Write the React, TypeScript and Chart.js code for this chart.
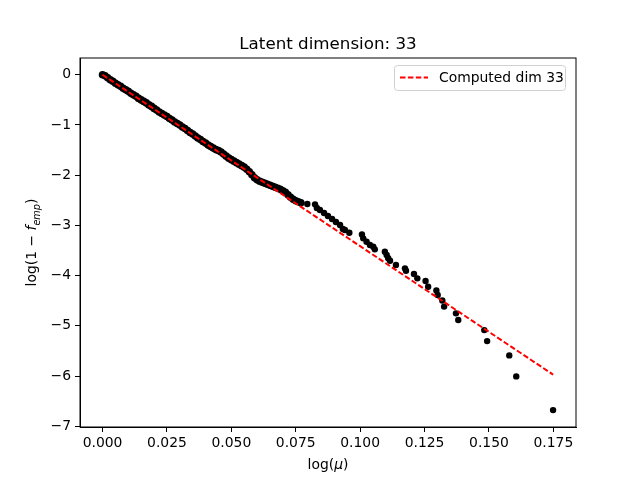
import React, { useEffect, useRef } from "react";
import { Chart, registerables } from "chart.js";

Chart.register(...registerables);

const chartTitle = "Latent dimension: 33";
const legendLabel = "Computed dim 33";

// dense empirical points (log mu, log(1 - f_emp))
const denseX = [
  0.000, 0.001, 0.002, 0.003, 0.004, 0.005, 0.006, 0.007, 0.008, 0.009,
  0.010, 0.011, 0.012, 0.013, 0.014, 0.015, 0.016, 0.017, 0.018, 0.019,
  0.020, 0.021, 0.022, 0.023, 0.024, 0.025, 0.026, 0.027, 0.028, 0.029,
  0.030, 0.031, 0.032, 0.033, 0.034, 0.035, 0.036, 0.037, 0.038, 0.039,
  0.040, 0.041, 0.042, 0.043, 0.044, 0.045, 0.046, 0.047, 0.048, 0.049,
  0.050, 0.051, 0.052, 0.053, 0.054, 0.055, 0.056, 0.057, 0.058, 0.059,
  0.060, 0.061, 0.062, 0.063, 0.064, 0.065, 0.066, 0.067, 0.068, 0.069,
  0.070, 0.071, 0.072, 0.073, 0.074, 0.075, 0.076, 0.077,
];
const denseY = [
  0.00, -0.02, -0.06, -0.10, -0.13, -0.17, -0.20, -0.23, -0.27, -0.30,
  -0.33, -0.37, -0.40, -0.43, -0.47, -0.50, -0.53, -0.56, -0.60, -0.63,
  -0.67, -0.70, -0.74, -0.77, -0.80, -0.83, -0.87, -0.90, -0.94, -0.97,
  -1.00, -1.04, -1.07, -1.11, -1.15, -1.18, -1.22, -1.26, -1.29, -1.33,
  -1.36, -1.40, -1.43, -1.46, -1.49, -1.51, -1.54, -1.58, -1.62, -1.66,
  -1.69, -1.72, -1.75, -1.78, -1.81, -1.84, -1.88, -1.93, -1.99, -2.05,
  -2.09, -2.12, -2.14, -2.16, -2.18, -2.20, -2.22, -2.24, -2.26, -2.28,
  -2.31, -2.34, -2.39, -2.44, -2.48, -2.51, -2.53, -2.55,
];

// sparse tail points
const tailX = [
  0.0795, 0.0825, 0.0832, 0.0844, 0.0860, 0.0875, 0.0891, 0.0906, 0.0922, 0.0933,
  0.0941, 0.0958, 0.1007, 0.1012, 0.1025, 0.1038, 0.1051, 0.1057, 0.1096, 0.1103,
  0.1109, 0.1116, 0.1139, 0.1174, 0.1178, 0.1209, 0.1222, 0.1254, 0.1264, 0.1296,
  0.1301, 0.1319, 0.1326, 0.1372, 0.1381, 0.1482, 0.1493, 0.1579, 0.1606, 0.1749,
];
const tailY = [
  -2.574, -2.580, -2.653, -2.693, -2.753, -2.813, -2.873, -2.932, -2.992, -3.072,
  -3.092, -3.145, -3.181, -3.257, -3.325, -3.390, -3.424, -3.476, -3.524, -3.590,
  -3.655, -3.703, -3.789, -3.855, -3.902, -3.968, -4.054, -4.108, -4.221, -4.297,
  -4.386, -4.496, -4.616, -4.751, -4.884, -5.084, -5.303, -5.588, -6.006, -6.677,
];

// computed fit line
const fitX = [0, 0.1749];
const fitY = [0, -5.97];

const xTicks = [0, 0.025, 0.05, 0.075, 0.1, 0.125, 0.15, 0.175];
const yTicks = [0, -1, -2, -3, -4, -5, -6, -7];

const FONT = "'DejaVu Sans', sans-serif";

const decorPlugin = {
  id: "decor",
  afterDraw(chart: any) {
    const ctx = chart.ctx as CanvasRenderingContext2D;
    const a = chart.chartArea;
    ctx.save();
    // frame
    ctx.strokeStyle = "#000";
    ctx.lineWidth = 1;
    ctx.strokeRect(a.left, a.top, a.right - a.left, a.bottom - a.top);

    // title
    ctx.fillStyle = "#000";
    ctx.font = `16.7px ${FONT}`;
    ctx.textAlign = "center";
    ctx.textBaseline = "alphabetic";
    ctx.fillText(chartTitle, (a.left + a.right) / 2, 49);

    const fs = 13.9;
    const measure = (pieces: [string, string, number][]) => {
      let w = 0;
      for (const [t, st, sub] of pieces) {
        ctx.font = `${st} ${sub ? fs * 0.7 : fs}px ${FONT}`;
        w += ctx.measureText(t).width;
      }
      return w;
    };
    const drawPieces = (pieces: [string, string, number][], x0: number, y0: number) => {
      let x = x0;
      ctx.textAlign = "left";
      for (const [t, st, sub] of pieces) {
        ctx.font = `${st} ${sub ? fs * 0.7 : fs}px ${FONT}`;
        ctx.fillText(t, x, y0 + (sub ? 3.5 : 0));
        x += ctx.measureText(t).width;
      }
    };

    // x axis title: log(μ)
    const xPieces: [string, string, number][] = [
      ["log(", "normal", 0],
      ["μ", "italic", 0],
      [")", "normal", 0],
    ];
    const cx = (a.left + a.right) / 2;
    drawPieces(xPieces, cx - measure(xPieces) / 2, 469);

    // y axis title: log(1 − f_emp)
    const yPieces: [string, string, number][] = [
      ["log(1 − ", "normal", 0],
      ["f", "italic", 0],
      ["emp", "italic", 1],
      [")", "normal", 0],
    ];
    ctx.save();
    ctx.translate(36, (a.top + a.bottom) / 2);
    ctx.rotate(-Math.PI / 2);
    drawPieces(yPieces, -measure(yPieces) / 2, 0);
    ctx.restore();

    // legend
    const lx = 394.5, ly = 65.5, lw = 171, lh = 25, r = 3;
    ctx.beginPath();
    ctx.moveTo(lx + r, ly);
    ctx.lineTo(lx + lw - r, ly);
    ctx.quadraticCurveTo(lx + lw, ly, lx + lw, ly + r);
    ctx.lineTo(lx + lw, ly + lh - r);
    ctx.quadraticCurveTo(lx + lw, ly + lh, lx + lw - r, ly + lh);
    ctx.lineTo(lx + r, ly + lh);
    ctx.quadraticCurveTo(lx, ly + lh, lx, ly + lh - r);
    ctx.lineTo(lx, ly + r);
    ctx.quadraticCurveTo(lx, ly, lx + r, ly);
    ctx.closePath();
    ctx.fillStyle = "rgba(255,255,255,0.8)";
    ctx.fill();
    ctx.strokeStyle = "#d0d0d0";
    ctx.lineWidth = 1;
    ctx.stroke();

    ctx.beginPath();
    ctx.strokeStyle = "red";
    ctx.lineWidth = 2;
    ctx.setLineDash([5.5, 2.4]);
    ctx.moveTo(400, 77.5);
    ctx.lineTo(428, 77.5);
    ctx.stroke();
    ctx.setLineDash([]);

    ctx.fillStyle = "#000";
    ctx.font = `${fs}px ${FONT}`;
    ctx.textAlign = "left";
    ctx.textBaseline = "middle";
    ctx.fillText(legendLabel, 439, 78);
    ctx.restore();
  },
};

export default function App() {
  const ref = useRef<HTMLCanvasElement | null>(null);

  useEffect(() => {
    document.body.style.margin = "0";
    const canvas = ref.current;
    if (!canvas) return;
    const chart = new Chart(canvas, {
      type: "scatter",
      data: {
        datasets: [
          {
            label: legendLabel,
            data: fitX.map((x, i) => ({ x, y: fitY[i] })),
            showLine: true,
            borderColor: "red",
            borderWidth: 2,
            borderDash: [5.5, 2.4],
            pointRadius: 0,
            fill: false,
            order: 0,
          },
          {
            label: "empirical dense",
            data: denseX.map((x, i) => ({ x, y: denseY[i] })),
            backgroundColor: "#000",
            borderColor: "#000",
            borderWidth: 0,
            pointRadius: 3.8,
            showLine: false,
            order: 1,
          },
          {
            label: "empirical tail",
            data: tailX.map((x, i) => ({ x, y: tailY[i] })),
            backgroundColor: "#000",
            borderColor: "#000",
            borderWidth: 0,
            pointRadius: 3.2,
            showLine: false,
            order: 2,
          },
        ],
      },
      options: {
        responsive: false,
        animation: false,
        devicePixelRatio: 1,
        layout: { padding: { top: 58, right: 64, left: 0, bottom: 0 } },
        plugins: {
          legend: { display: false },
          title: { display: false },
          tooltip: { enabled: false },
        },
        scales: {
          x: {
            type: "linear",
            min: -0.00875,
            max: 0.1838,
            afterBuildTicks: (s: any) => {
              s.ticks = xTicks.map((v) => ({ value: v }));
            },
            afterFit: (s: any) => {
              s.height = 53;
            },
            grid: {
              drawOnChartArea: false,
              drawTicks: true,
              tickLength: 5,
              tickColor: "#000",
            },
            border: { display: true, color: "#000", width: 1 },
            ticks: {
              color: "#000",
              padding: 3,
              maxRotation: 0,
              autoSkip: false,
              font: { family: "DejaVu Sans", size: 13.9 },
              callback: (v: any) => Number(v).toFixed(3),
            },
          },
          y: {
            type: "linear",
            min: -7.014,
            max: 0.334,
            afterBuildTicks: (s: any) => {
              s.ticks = yTicks.map((v) => ({ value: v }));
            },
            afterFit: (s: any) => {
              s.width = 80;
            },
            grid: {
              drawOnChartArea: false,
              drawTicks: true,
              tickLength: 5,
              tickColor: "#000",
            },
            border: { display: true, color: "#000", width: 1 },
            ticks: {
              color: "#000",
              padding: 4,
              autoSkip: false,
              font: { family: "DejaVu Sans", size: 13.9 },
              callback: (v: any) => (Number(v) < 0 ? "−" + Math.abs(Number(v)) : String(v)),
            },
          },
        },
      },
      plugins: [decorPlugin],
    });
    return () => chart.destroy();
  }, []);

  return (
    <div style={{ position: "absolute", left: 0, top: 0, width: 640, height: 480, background: "#fff" }}>
      <canvas ref={ref} width={640} height={480} style={{ width: 640, height: 480 }} />
    </div>
  );
}
